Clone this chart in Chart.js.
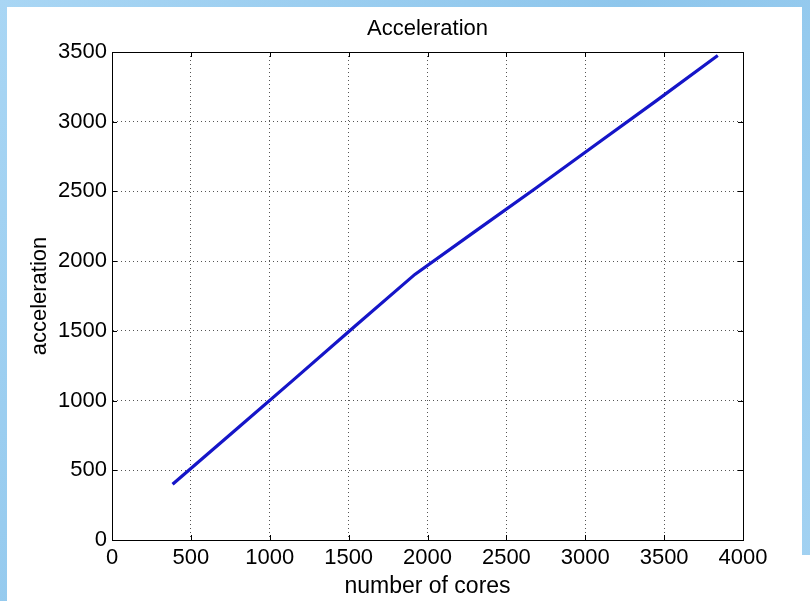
<!DOCTYPE html>
<html>
<head>
<meta charset="utf-8">
<title>Acceleration</title>
<script src="https://cdn.jsdelivr.net/npm/chart.js@4.4.1/dist/chart.umd.min.js"></script>
<style>
  html, body { margin: 0; padding: 0; background: #a6d3f2; }
  #wrap { width: 810px; height: 601px; position: relative; }
</style>
</head>
<body>
<div id="wrap"><canvas id="accel" width="810" height="601"></canvas></div>
<script>
// number of cores vs. measured acceleration
const cores = [384, 768, 1152, 1536, 1920, 2304, 2688, 3072, 3456, 3840];
const acceleration = [400, 775, 1150, 1530, 1905, 2215, 2525, 2840, 3155, 3475];

const xTicks = [0, 500, 1000, 1500, 2000, 2500, 3000, 3500, 4000];
const yTicks = [0, 500, 1000, 1500, 2000, 2500, 3000, 3500];

const chartTitle = "Acceleration";
const font = "'Liberation Sans', Arial, sans-serif";

// sky blue frame with a white figure panel, axes box and inward ticks
const framePlugin = {
  id: "frame",
  beforeDraw(chart) {
    const ctx = chart.ctx;
    const g = ctx.createLinearGradient(0, 0, 810, 601);
    g.addColorStop(0, "#a9d6f4");
    g.addColorStop(0.5, "#8ec6ec");
    g.addColorStop(1, "#a3d2f2");
    ctx.save();
    ctx.fillStyle = g;
    ctx.fillRect(0, 0, chart.width, chart.height);
    ctx.fillStyle = "#ffffff";
    ctx.fillRect(7, 7, 795, chart.height - 7);
    ctx.fillRect(7, 555, chart.width - 7, chart.height - 555);
    ctx.restore();
  },
  afterDatasetsDraw(chart) {
    const { ctx, chartArea: a, scales } = chart;
    ctx.save();
    ctx.setLineDash([]);
    ctx.strokeStyle = "#000";
    ctx.lineWidth = 1;
    ctx.strokeRect(a.left + 0.5, a.top + 0.5, a.right - a.left, a.bottom - a.top);
    ctx.beginPath();
    xTicks.forEach((v) => {
      const px = Math.round(scales.x.getPixelForValue(v)) + 0.5;
      ctx.moveTo(px, a.bottom); ctx.lineTo(px, a.bottom - 5);
      ctx.moveTo(px, a.top); ctx.lineTo(px, a.top + 5);
    });
    yTicks.forEach((v) => {
      const py = Math.round(scales.y.getPixelForValue(v)) + 0.5;
      ctx.moveTo(a.left, py); ctx.lineTo(a.left + 5, py);
      ctx.moveTo(a.right, py); ctx.lineTo(a.right - 5, py);
    });
    ctx.stroke();

    // title centred over the plot area
    ctx.fillStyle = "#000";
    ctx.font = "22px " + font;
    ctx.textAlign = "center";
    ctx.textBaseline = "alphabetic";
    ctx.fillText(chartTitle, (a.left + a.right) / 2, 35);
    ctx.restore();
  }
};

const plain = (v) => String(v);

new Chart(document.getElementById("accel"), {
  type: "line",
  data: {
    datasets: [
      {
        label: "acceleration",
        data: cores.map((c, i) => ({ x: c, y: acceleration[i] })),
        borderColor: "#1515c8",
        borderWidth: 3.2,
        pointRadius: 0,
        tension: 0,
        fill: false,
      },
    ],
  },
  options: {
    responsive: false,
    animation: false,
    layout: { padding: { left: 0, right: 67, top: 52, bottom: 0 } },
    plugins: {
      legend: { display: false },
      tooltip: { enabled: false },
      title: { display: false },
    },
    scales: {
      x: {
        type: "linear",
        min: 0,
        max: 4000,
        afterBuildTicks: (s) => { s.ticks = xTicks.map((v) => ({ value: v })); },
        afterFit: (s) => { s.height = 61; },
        border: { color: "#000", width: 1, dash: [1, 3] },
        grid: { color: "#555", drawTicks: false, lineWidth: 1 },
        ticks: { color: "#000", padding: 5, maxRotation: 0, callback: plain, font: { family: font, size: 22 } },
        title: {
          display: true,
          text: "number of cores",
          color: "#000",
          font: { family: font, size: 23 },
          padding: { top: 0, bottom: 1 },
        },
      },
      y: {
        type: "linear",
        min: 0,
        max: 3500,
        afterBuildTicks: (s) => { s.ticks = yTicks.map((v) => ({ value: v })); },
        afterFit: (s) => { s.width = 112; },
        border: { color: "#000", width: 1, dash: [1, 3] },
        grid: { color: "#555", drawTicks: false, lineWidth: 1 },
        ticks: { color: "#000", padding: 5, callback: plain, font: { family: font, size: 22 } },
        title: {
          display: true,
          text: "acceleration",
          color: "#000",
          font: { family: font, size: 22 },
          padding: { top: 27, bottom: 0 },
        },
      },
    },
  },
  plugins: [framePlugin],
});
</script>
</body>
</html>
